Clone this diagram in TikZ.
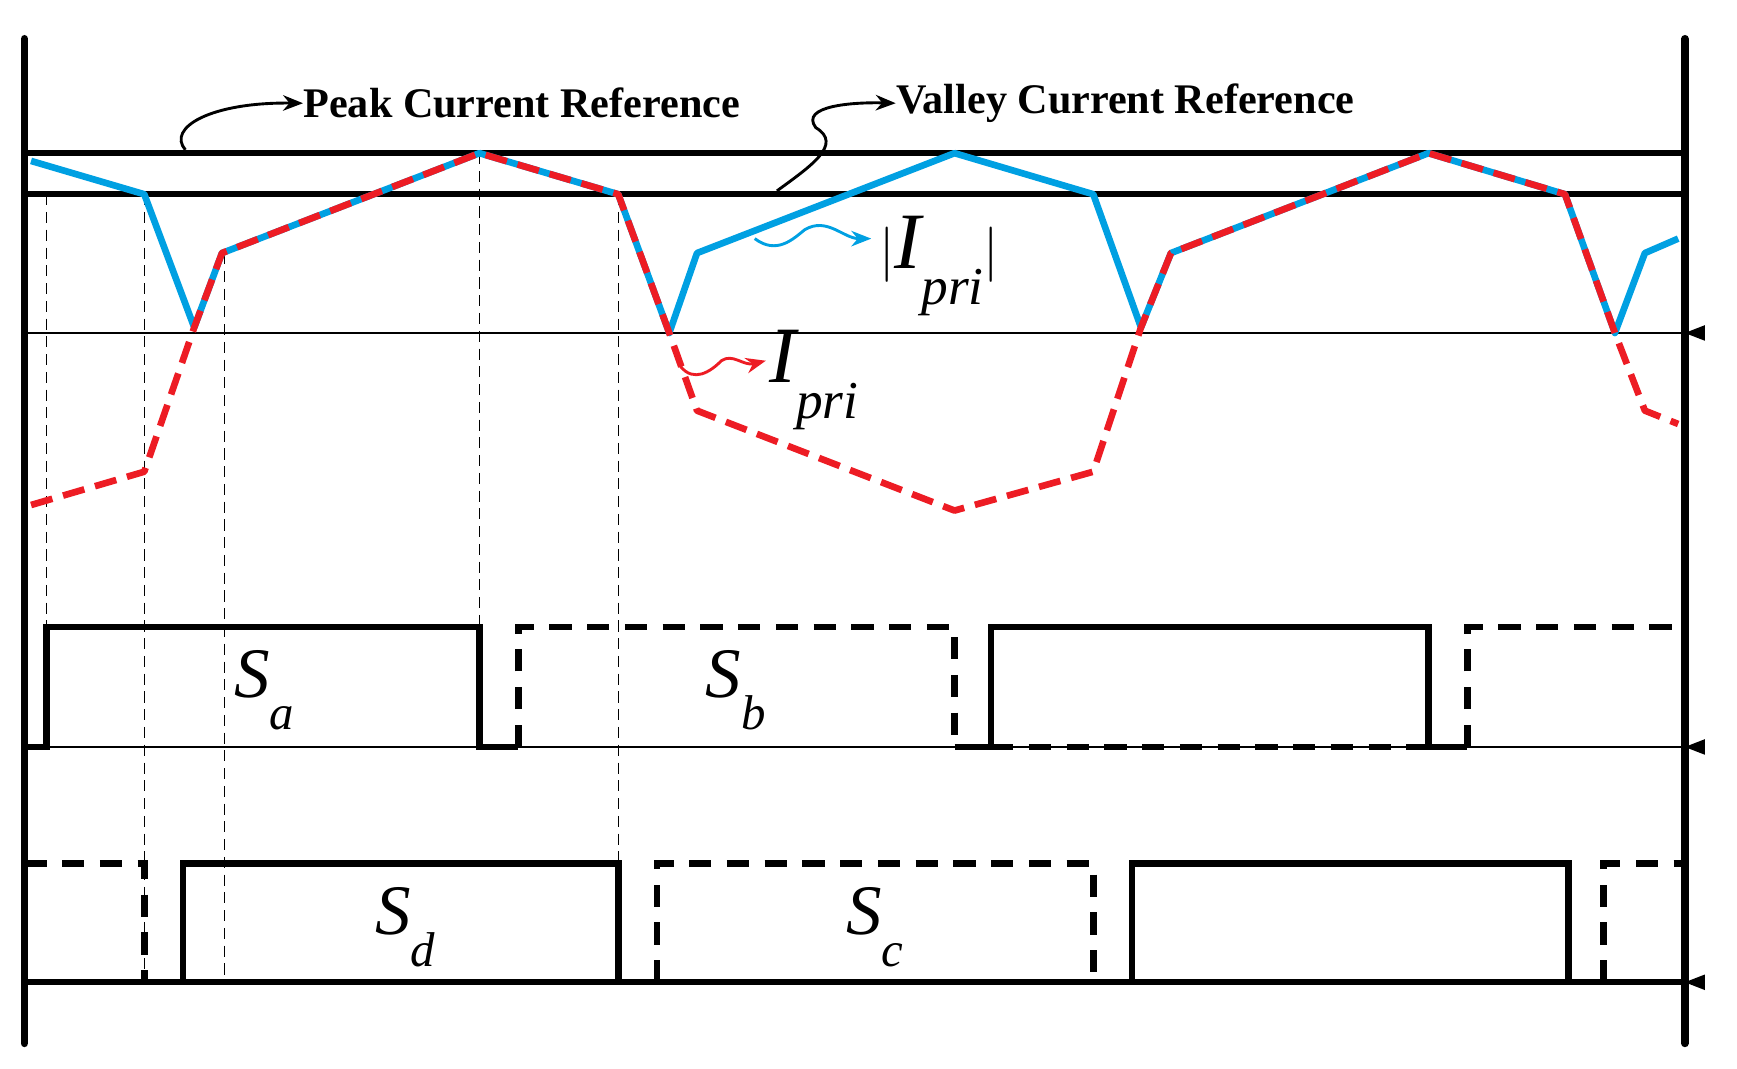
\documentclass[tikz,border=0pt]{standalone}
\usepackage{fontspec}
\setmainfont{Liberation Serif}
\usetikzlibrary{arrows.meta}
\begin{document}
\begin{tikzpicture}[x=0.5pt,y=-0.5pt,
 axis/.style={line width=3.5pt,line cap=round},
 ref/.style={line width=2.5pt},
 base/.style={line width=1.1pt},
 guide/.style={line width=0.6pt,dash pattern=on 5pt off 3pt},
 pulse/.style={line width=3pt},
 dpulse/.style={line width=3pt,dash pattern=on 10pt off 7pt},
 blue/.style={line width=3pt,draw={rgb,255:red,0;green,160;blue,226},line join=round},
 red/.style={line width=3pt,draw={rgb,255:red,237;green,28;blue,36},dash pattern=on 10pt off 5pt,line join=round},
 lbl/.style={font=\fontsize{32}{34}\selectfont\itshape,inner sep=0pt},
 ttl/.style={font=\fontsize{19}{21}\selectfont\bfseries,anchor=west,inner sep=0pt},
 tip/.style={-{Stealth[length=9pt,width=7pt]},line width=1.3pt}]
\useasboundingbox (0,0) rectangle (1565,963);
% guides
\draw[guide] (42,175) -- (42,565);
\draw[guide] (130,175) -- (130,885);
\draw[guide] (202,228) -- (202,885);
\draw[guide] (432,138) -- (432,565);
\draw[guide] (557,175) -- (557,778);
% reference lines
\draw[ref] (22,138) -- (1518,138);
\draw[ref] (22,175) -- (1518,175);
\draw[base] (22,300) -- (1518,300);
\draw[base] (22,673) -- (1518,673);
\draw[ref] (22,885) -- (1518,885);
% axes
\draw[axis] (22,35) -- (22,940);
\draw[axis] (1518,35) -- (1518,940);
\foreach \yy in {300,673,885}{
 \fill (1518,\yy) -- (1536,\yy-7) -- (1536,\yy+7) -- cycle;}
% currents
\draw[blue] (28,145) -- (130,175) -- (175,295) -- (200,228) -- (432,138) -- (557,175) -- (603,300) -- (628,228) -- (860,138) -- (985,175) -- (1028,295) -- (1055,228) -- (1287,138) -- (1410,175) -- (1455,300) -- (1482,228) -- (1512,215);
\draw[red] (28,455) -- (130,425) -- (175,295) -- (200,228) -- (432,138) -- (557,175) -- (603,300) -- (628,370) -- (860,460) -- (985,425) -- (1028,295) -- (1055,228) -- (1287,138) -- (1410,175) -- (1455,300) -- (1482,370) -- (1512,382);
% Sa/Sb row
\draw[pulse] (22,673) -- (42,673) -- (42,565) -- (432,565) -- (432,673) -- (467,673);
\draw[dpulse] (467,673) -- (467,565) -- (860,565) -- (860,673);
\draw[pulse] (860,673) -- (893,673) -- (893,565) -- (1287,565) -- (1287,673) -- (1322,673);
\draw[dpulse] (893,673) -- (1287,673);
\draw[dpulse] (1322,673) -- (1322,565) -- (1518,565);
% Sd/Sc row
\draw[dpulse] (22,778) -- (130,778) -- (130,885);
\draw[pulse] (165,885) -- (165,778) -- (557,778) -- (557,885);
\draw[dpulse] (592,885) -- (592,778) -- (985,778) -- (985,885);
\draw[pulse] (1020,885) -- (1020,778) -- (1413,778) -- (1413,885);
\draw[dpulse] (1445,885) -- (1445,778) -- (1518,778);
% labels
\node[lbl] (sa) at (238,622) {S\raisebox{-0.45em}{\fontsize{22}{24}\selectfont a}};
\node[lbl] (sb) at (663,622) {S\raisebox{-0.45em}{\fontsize{22}{24}\selectfont b}};
\node[lbl] (sd) at (365,835) {S\raisebox{-0.45em}{\fontsize{22}{24}\selectfont d}};
\node[lbl] (sc) at (788,835) {S\raisebox{-0.45em}{\fontsize{22}{24}\selectfont c}};
\node[lbl,font=\fontsize{36}{38}\selectfont\itshape,anchor=west] (ia) at (792,240) {$|$I\raisebox{-0.45em}{\fontsize{24}{26}\selectfont pri}$|$};
\node[lbl,font=\fontsize{36}{38}\selectfont\itshape,anchor=west] (ip) at (693,342) {I\raisebox{-0.45em}{\fontsize{24}{26}\selectfont pri}};
\node[ttl] (pk) at (273,93) {Peak Current Reference};
\node[ttl] (vl) at (807,93) {Valley Current Reference};
% pointer arrows
\coordinate (pa) at (167,135);
\coordinate (va) at (700,172);
\coordinate (ba) at (680,215);
\coordinate (ra) at (613,330);
\draw[tip] (pa) .. controls (150,115) and (190,92) .. (pk.west);
\draw[tip] (va) .. controls (730,150) and (760,130) .. (735,115) .. controls (720,95) and (770,92) .. (vl.west);
\draw[tip,draw={rgb,255:red,0;green,160;blue,226}] (ba) .. controls (700,230) and (715,215) .. (725,207) .. controls (745,195) and (760,215) .. (785,215);
\draw[tip,draw={rgb,255:red,237;green,28;blue,36}] (ra) .. controls (625,345) and (640,335) .. (650,325) .. controls (660,318) and (670,330) .. (690,325);
\end{tikzpicture}
\end{document}
